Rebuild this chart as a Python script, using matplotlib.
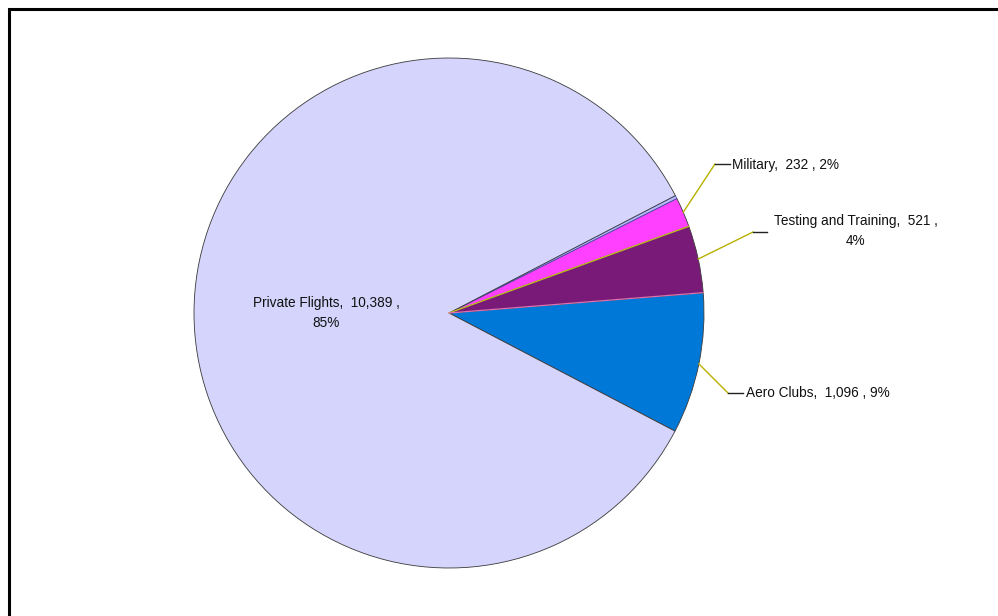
import numpy as np
import matplotlib
matplotlib.use("Agg")
import matplotlib.pyplot as plt
from matplotlib.lines import Line2D

plt.rcParams['font.family'] = ['Liberation Sans', 'DejaVu Sans']

# Flight hours by category
categories = ["Aero Clubs", "Testing and Training", "Military", "Other", "Private Flights"]
values = [1096, 521, 232, 25, 10389]
colors = ["#0078D7", "#7A1A78", "#FF40FF", "#B8B8F8", "#D4D4FC"]
labels = ["Aero Clubs,  1,096 , 9%",
          "Testing and Training,  521 ,\n4%",
          "Military,  232 , 2%",
          None,
          "Private Flights,  10,389 ,\n85%"]

W, H = 998, 616
fig = plt.figure(figsize=(W / 100, H / 100), dpi=100)
ax = fig.add_axes([0, 0, 1, 1])

cx, cy, r = 449, H - 313, 255
wedges, _ = ax.pie(values, colors=colors, startangle=-27.6, counterclock=True,
                   center=(cx, cy), radius=r, frame=True,
                   wedgeprops=dict(edgecolor="#3a3a3a", linewidth=0.6))
ax.set_xlim(0, W)
ax.set_ylim(0, H)
ax.axis("off")
wedges[3].set_edgecolor("#4a4ab0")

# coloured seams between the small slices
def seam(theta, color):
    t = np.deg2rad(theta)
    ax.plot([cx, cx + r * np.cos(t)], [cy, cy + r * np.sin(t)], color=color, lw=0.9)

seam(wedges[1].theta2, "#C8C020")
seam(wedges[0].theta2, "#E070B0")

# leader lines: (edge point along the slice middle, elbow, end)
def leader(w, elbow, end):
    t = np.deg2rad((w.theta1 + w.theta2) / 2)
    p = (cx + r * np.cos(t), cy + r * np.sin(t))
    ax.plot([p[0], elbow[0]], [p[1], H - elbow[1]], color="#B8B000", lw=1.0)
    ax.plot([elbow[0], end[0]], [H - elbow[1], H - end[1]], color="#222222", lw=1.0)

leader(wedges[2], (715, 164), (730, 164))
leader(wedges[1], (753, 232), (767, 232))
leader(wedges[0], (728, 393), (743, 393))

fs = 9.8
ls = 1.6
ax.text(732, H - 165, labels[2], fontsize=fs, ha="left", va="center", color="#111111")
ax.text(856, H - 231, labels[1], fontsize=fs, ha="center", va="center",
        color="#111111", linespacing=ls)
ax.text(746, H - 393, labels[0], fontsize=fs, ha="left", va="center", color="#111111")
ax.text(326, H - 313, labels[4], fontsize=fs, ha="center", va="center",
        color="#111111", linespacing=ls)

# chart area border (top and left edges visible)
fig.add_artist(Line2D([9 / W, 9 / W, 1.0], [0.0, 1 - 9 / H, 1 - 9 / H],
                      transform=fig.transFigure, color="black", lw=2.2,
                      solid_joinstyle="miter"))

fig.savefig("out.png", dpi=100, facecolor="white")
